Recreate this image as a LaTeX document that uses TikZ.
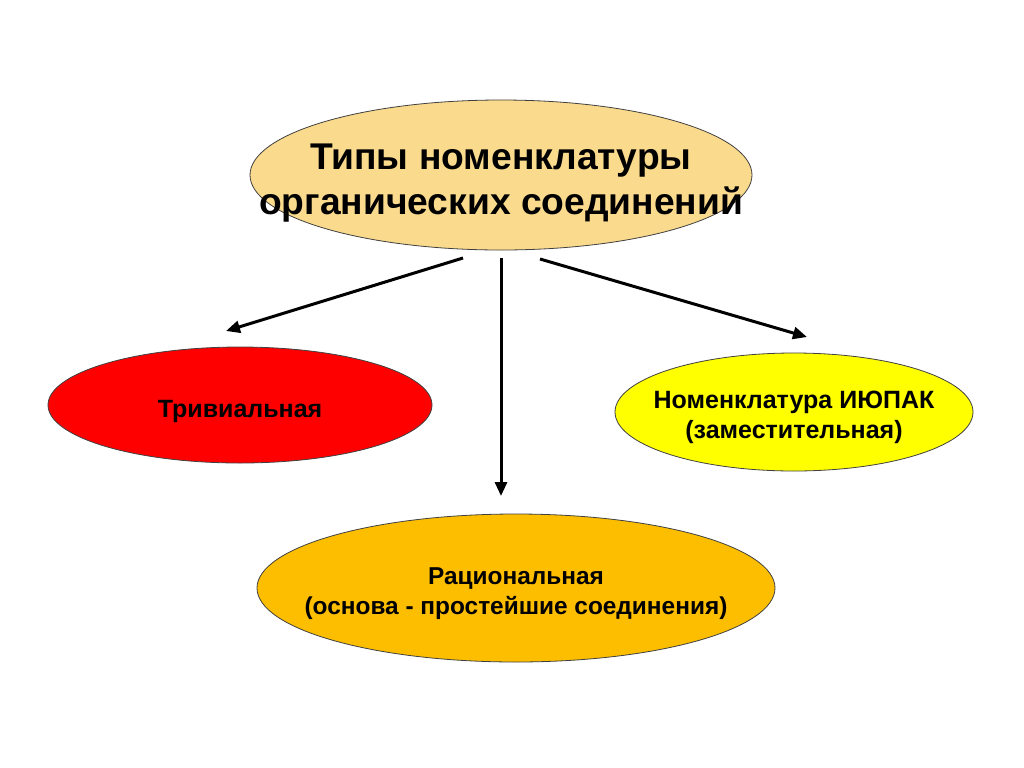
\documentclass[tikz,border=0pt]{standalone}
\usepackage{fontspec}
\setmainfont{Liberation Sans}
\usetikzlibrary{arrows.meta,shapes.geometric}

\definecolor{typesfill}{RGB}{250,218,140}
\definecolor{trivfill}{RGB}{255,0,0}
\definecolor{iupacfill}{RGB}{255,255,0}
\definecolor{ratfill}{RGB}{253,190,0}

\begin{document}
\begin{tikzpicture}[x=0.5pt,y=-0.5pt,>={Triangle[length=7pt,width=6pt]},
    main node/.style={ellipse,draw=black!75,line width=0.4pt,inner sep=0pt},
    main text/.style={align=center,font=\bfseries\fontsize{12.5}{15}\selectfont},
    big text/.style={align=center,font=\bfseries\fontsize{18.6}{22.5}\selectfont},
    link/.style={->,line width=1.5pt}]

    \useasboundingbox (0,0) rectangle (1024,767);

    \node[main node,fill=typesfill,minimum width=251pt,minimum height=75pt,
        label={[big text,yshift=-4pt]center:{Типы номенклатуры\\органических соединений}}]
        (types) at (501,175) {};
    \node[main node,fill=trivfill,minimum width=192pt,minimum height=58pt,
        label={[main text,yshift=-3pt]center:{Тривиальная}}]
        (triv) at (240,405) {};
    \node[main node,fill=iupacfill,minimum width=179pt,minimum height=59pt,
        label={[main text,yshift=-2.5pt]center:{Номенклатура ИЮПАК\\(заместительная)}}]
        (iupac) at (794,412) {};
    \node[main node,fill=ratfill,minimum width=259pt,minimum height=74pt,
        label={[main text,font=\bfseries\fontsize{12.2}{15}\selectfont,yshift=-3pt]center:{Рациональная\\(основа - простейшие соединения)}}]
        (rat) at (516,588) {};

    % arrow ends
    \coordinate (types left) at (463,258);
    \coordinate (types mid) at (501,258);
    \coordinate (types right) at (540,259);
    \coordinate (triv top) at (226,331);
    \coordinate (rat top) at (501,496);
    \coordinate (iupac top) at (807,337);

    \draw[link] (types left) -- (triv top);
    \draw[link] (types mid) -- (rat top);
    \draw[link] (types right) -- (iupac top);
\end{tikzpicture}
\end{document}
